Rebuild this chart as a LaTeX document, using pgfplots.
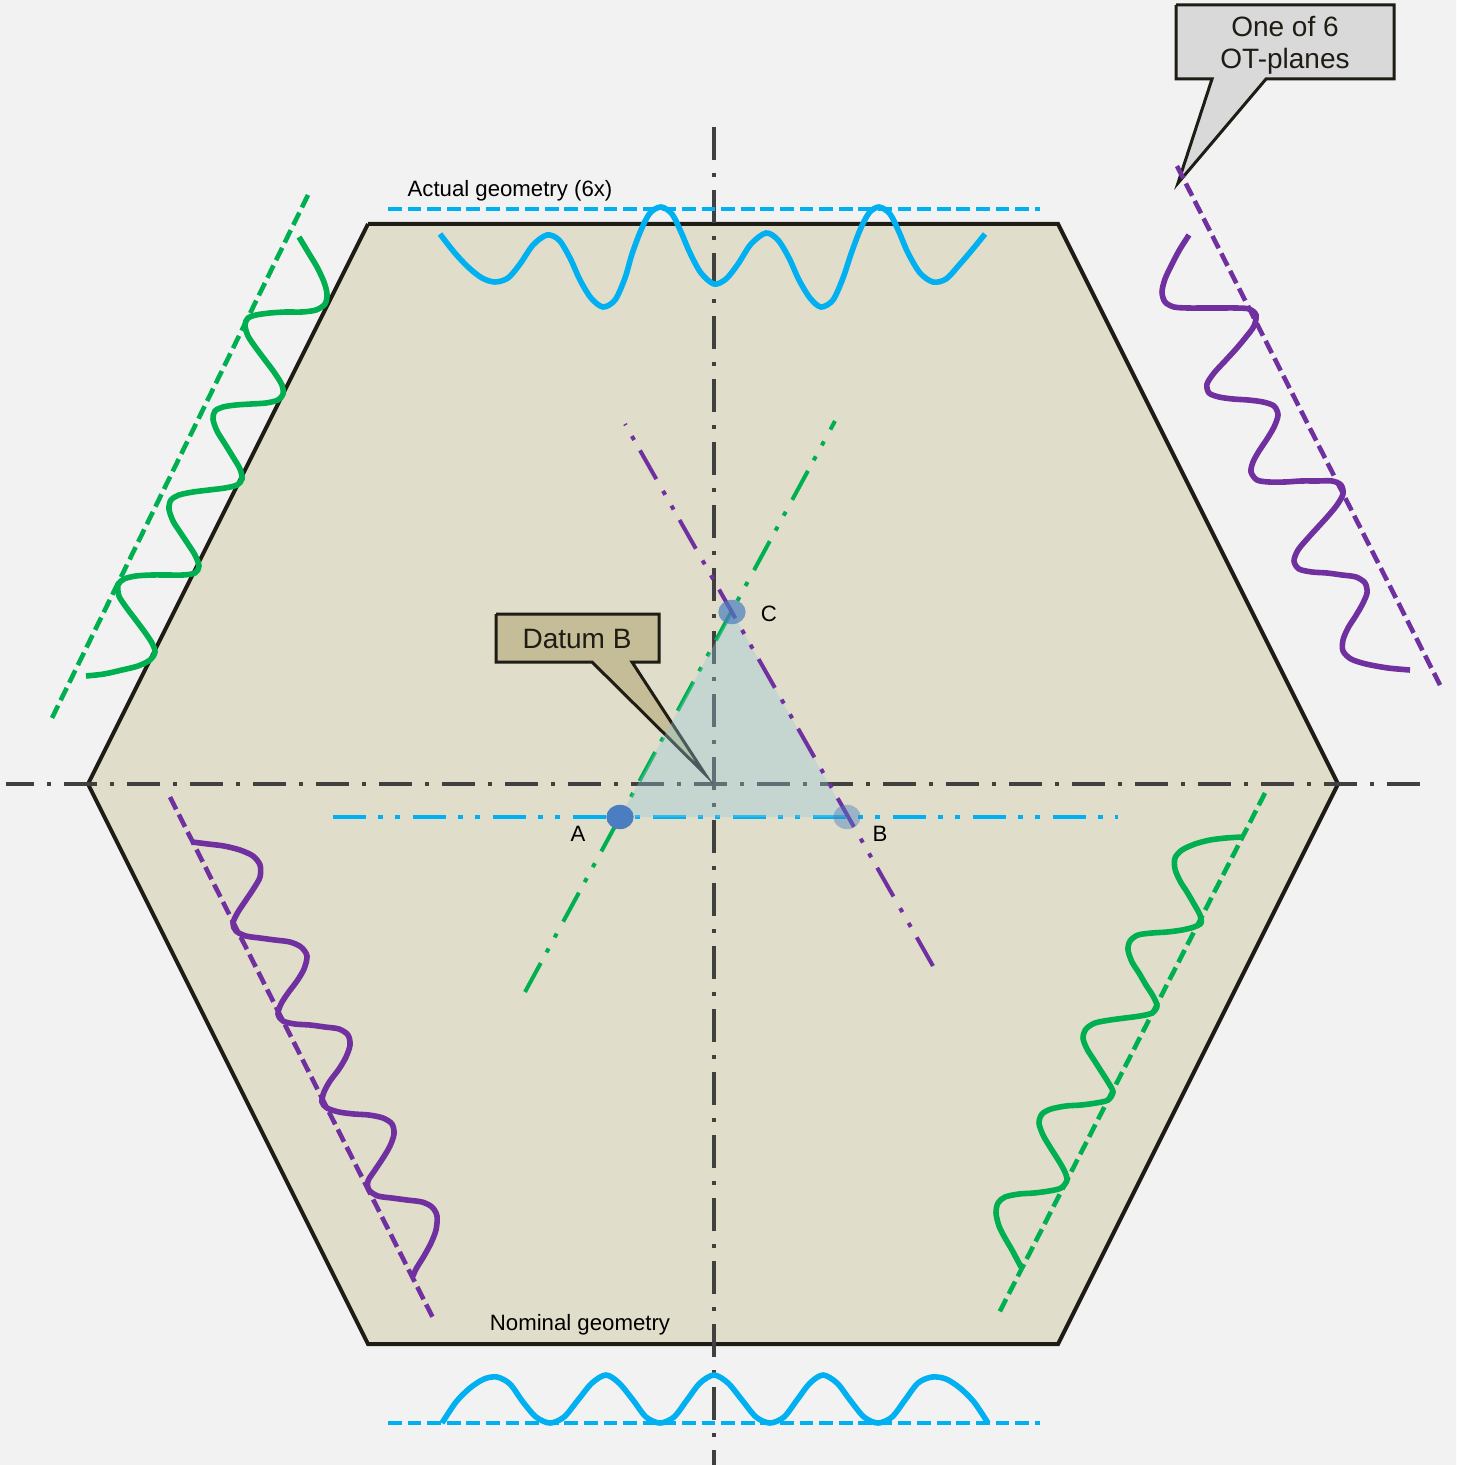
\documentclass[border=0pt]{standalone}
\usepackage{pgfplots}
\pgfplotsset{compat=1.18}
\usepackage{fontspec}
\setmainfont{Liberation Sans}
\definecolor{bgc}{HTML}{F2F2F2}
\definecolor{hexc}{HTML}{E0DDCA}
\definecolor{edgec}{HTML}{1E1C14}
\definecolor{darkc}{HTML}{404040}
\definecolor{bluec}{HTML}{00B0F0}
\definecolor{greenc}{HTML}{00B050}
\definecolor{purplec}{HTML}{7030A0}
\definecolor{datumc}{HTML}{C4BD97}
\definecolor{calloutc}{HTML}{D9D9D9}
\definecolor{triac}{HTML}{96C9DA}
\definecolor{dotc}{HTML}{4A7EC0}
\pgfplotsset{
  centre/.style={darkc,line width=2pt,dash pattern=on 16.6pt off 6.4pt on 2.15pt off 6.35pt},
  twodot/.style={line width=2pt,dash pattern=on 16.5pt off 6pt on 2.25pt off 6.25pt on 2.25pt off 6.75pt},
  nomdash/.style={line width=2.3pt,dash pattern=on 6.9pt off 2.9pt},
  wave/.style={line width=2.8pt,smooth,tension=0.5},
  callout/.style={edgec,line width=1.5pt,line join=miter},
  dot/.style={only marks,mark=*,mark size=6.1pt,mark options={draw opacity=0,line width=0pt,fill=dotc,xscale=1.12,fill opacity=#1}},
}
\begin{document}
\begin{tikzpicture}[
  lbl/.style={font=\fontsize{11.1pt}{13pt}\selectfont},
  bigt/.style={text=edgec,font=\fontsize{14pt}{16pt}\selectfont}]
\begin{axis}[
  scale only axis, width=728pt, height=732.5pt,
  xmin=0, xmax=1456, ymin=0, ymax=1465, y dir=reverse,
  hide axis, clip=true]

% background and hexagon
\addplot[fill=bgc,draw=none] coordinates {(0,0) (1456,0) (1456,1465) (0,1465) (0,0)};
\addplot[fill=hexc,draw=edgec,line width=2pt] coordinates {(368,224) (1058,224) (1338,784) (1058,1344) (368,1344) (88,784) (368,224)};

% centre lines
\addplot[centre,dash phase=2.5pt] coordinates {(6,784) (1421,784)};
\addplot[centre] coordinates {(714,127) (714,1465)};

% datum lines
\addplot[twodot,bluec] coordinates {(333,817) (1118,817)};
\addplot[twodot,greenc] coordinates {(525,992) (835,421)};

% nominal planes, dashed
\addplot[nomdash,bluec] coordinates {(388,209) (1040,209)};
\addplot[nomdash,bluec] coordinates {(388,1423) (1040,1423)};
\addplot[nomdash,greenc] coordinates {(308,195) (52,718)};
\addplot[nomdash,greenc] coordinates {(1265,793) (999,1313)};
\addplot[nomdash,purplec] coordinates {(170,797) (433,1318)};

% callouts
\addplot[callout,fill=calloutc] coordinates {(1176,5) (1394,5) (1394,79) (1266,79) (1178,183) (1212,79) (1176,79) (1176,5)};
\addplot[nomdash,purplec] coordinates {(1177,166) (1440,685)};
\addplot[callout,fill=datumc] coordinates {(496,614) (659,614) (659,662) (632,662) (705,774) (592,662) (496,662) (496,614)};

% actual surfaces
\addplot[wave,bluec] coordinates {(440,234) (454,252) (468,267) (482,278) (495,282) (508,278) (520,264) (533,245) (547,235) (559,240) (570,258) (580,280) (591,298) (603,307) (615,300) (625,278) (632,254) (641,230) (650,213) (661,207) (672,214) (681,232) (690,253) (701,273) (714,284) (726,279) (738,264) (751,244) (766,233) (778,240) (789,258) (799,280) (810,298) (821,307) (833,300) (843,278) (851,254) (860,230) (869,213) (879,207) (890,214) (899,232) (908,253) (920,273) (933,282) (946,279) (960,264) (972,250) (985,234)};
\addplot[wave,bluec] coordinates {(442,1423) (456,1402) (470,1388) (484,1379) (497,1377) (510,1384) (523,1402) (536,1417) (550,1423) (564,1417) (578,1400) (592,1383) (606,1375) (619,1383) (633,1400) (646,1417) (660,1423) (674,1417) (687,1400) (700,1383) (714,1375) (728,1383) (742,1400) (756,1417) (770,1423) (784,1417) (797,1400) (810,1383) (823,1375) (837,1383) (850,1400) (864,1417) (878,1423) (892,1417) (905,1400) (918,1383) (932,1377) (946,1379) (960,1388) (974,1402) (988,1423)};
\addplot[wave,greenc] coordinates {(299,237) (308,252) (317,267) (324,282) (327,294) (325,304) (316,310) (302,312) (286,312) (270,313) (256,315) (248,318) (245,325) (248,336) (256,348) (265,360) (274,372) (282,385) (283,394) (278,400) (266,403) (251,404) (236,405) (223,407) (215,411) (213,419) (217,431) (225,444) (233,457) (240,469) (242,479) (237,485) (225,488) (209,490) (193,492) (179,495) (171,500) (169,509) (173,521) (180,532) (188,544) (195,555) (199,566) (195,573) (183,575) (168,575) (152,575) (136,576) (124,579) (118,585) (119,596) (126,607) (135,619) (144,631) (152,643) (155,652) (150,660) (138,666) (122,670) (104,674) (86,676)};
\addplot[wave,purplec] coordinates {(192,842) (208,844) (224,846) (240,850) (253,856) (260,865) (260,877) (254,888) (246,900) (238,912) (233,923) (236,931) (246,936) (260,938) (275,940) (290,942) (301,947) (307,956) (304,969) (297,981) (288,993) (281,1004) (278,1014) (283,1021) (295,1024) (310,1025) (325,1027) (339,1029) (348,1035) (350,1045) (346,1057) (339,1069) (330,1081) (324,1092) (322,1102) (327,1108) (339,1112) (354,1114) (369,1115) (383,1118) (392,1124) (394,1134) (390,1146) (383,1158) (375,1170) (368,1181) (369,1190) (378,1196) (392,1198) (407,1200) (422,1202) (432,1207) (437,1216) (436,1230) (431,1243) (424,1256) (416,1269) (413,1276)};
\addplot[wave,greenc] coordinates {(1242,837) (1226,838) (1210,840) (1195,844) (1182,850) (1175,858) (1175,869) (1180,881) (1187,892) (1194,904) (1200,915) (1201,923) (1194,927) (1182,930) (1167,932) (1152,933) (1138,935) (1130,941) (1128,950) (1132,962) (1139,973) (1146,985) (1153,996) (1157,1006) (1152,1013) (1140,1016) (1125,1018) (1110,1020) (1095,1023) (1086,1029) (1083,1038) (1087,1049) (1094,1060) (1101,1071) (1108,1082) (1113,1092) (1108,1100) (1096,1103) (1081,1105) (1066,1106) (1051,1109) (1042,1114) (1039,1123) (1043,1135) (1050,1147) (1057,1158) (1064,1170) (1067,1180) (1061,1188) (1049,1191) (1034,1193) (1019,1194) (1005,1197) (998,1203) (996,1213) (999,1226) (1005,1238) (1012,1250) (1021,1267)};
\addplot[wave,purplec] coordinates {(1189,235) (1180,249) (1172,264) (1165,279) (1162,292) (1165,302) (1174,307) (1188,308) (1204,308) (1220,308) (1236,308) (1249,309) (1256,315) (1254,326) (1246,337) (1236,349) (1225,361) (1214,373) (1207,384) (1209,393) (1219,397) (1233,399) (1248,400) (1263,402) (1274,406) (1278,415) (1274,427) (1267,439) (1259,451) (1253,462) (1251,472) (1257,480) (1269,482) (1285,482) (1301,481) (1317,481) (1332,481) (1341,485) (1343,494) (1337,505) (1328,516) (1318,527) (1308,538) (1298,550) (1294,561) (1299,569) (1312,572) (1327,573) (1342,575) (1356,577) (1365,583) (1367,593) (1362,605) (1355,617) (1348,628) (1343,640) (1343,651) (1351,659) (1366,664) (1388,668) (1410,670)};

% datum points and triangle
\addplot[dot=1] coordinates {(620,817)};
\addplot[fill=triac,fill opacity=0.36,draw=none] coordinates {(620,817) (847,817) (732,612) (620,817)};
\addplot[twodot,purplec] coordinates {(933,966) (625,424)};
\addplot[dot=0.7] coordinates {(732,612)};
\addplot[dot=0.45] coordinates {(847,817)};

% texts
\node[lbl] at (axis cs:510,190.5) {Actual geometry (6x)};
\node[lbl] at (axis cs:580,1325) {Nominal geometry};
\node[lbl] at (axis cs:578,834) {A};
\node[lbl] at (axis cs:880,834) {B};
\node[lbl] at (axis cs:769,614) {C};
\node[bigt] at (axis cs:577,639) {Datum B};
\node[bigt,align=center] at (axis cs:1285,45.5) {One of 6\\OT-planes};
\end{axis}
\end{tikzpicture}
\end{document}
